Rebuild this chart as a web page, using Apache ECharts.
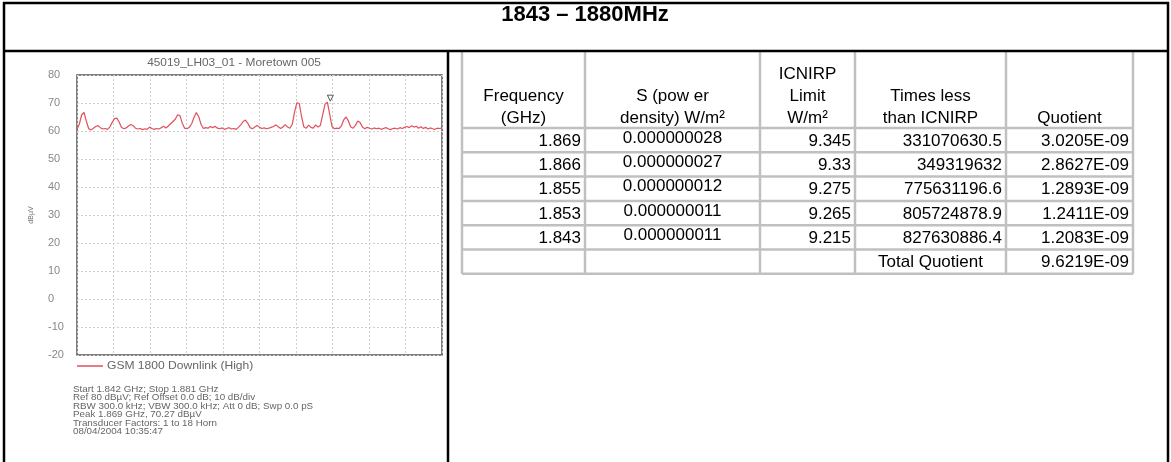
<!DOCTYPE html>
<html><head><meta charset="utf-8">
<script src="https://cdn.jsdelivr.net/npm/echarts@6/dist/echarts.min.js"></script>
<style>html,body{margin:0;padding:0;background:#fff}#c{width:1171px;height:462px}</style>
</head><body><div id="c"></div>
<script>
// ---------- data ----------
const pageTitle = '1843 – 1880MHz';
const chartTitle = '45019_LH03_01 - Moretown 005';
const seriesName = 'GSM 1800 Downlink (High)';
const yAxisName = 'dBµV';
const startGHz = 1.842, stopGHz = 1.881, stepMHz = 0.25; // sweep
const yMin = -20, yMax = 80, yStep = 10;
// measured level (dBµV) every 0.25 MHz from 1.842 GHz
const levels = [
  60.6, 62.5, 65.8, 66.6, 63.5, 60.8, 60.4, 61.0,
  61.6, 61.9, 61.2, 60.7, 60.9, 60.6, 61.4, 63.0,
  64.4, 64.6, 63.2, 61.3, 60.8, 61.1, 61.8, 62.3,
  61.9, 61.0, 60.7, 60.9, 60.5, 60.8, 60.6, 61.4,
  60.9, 60.6, 60.9, 60.7, 61.2, 61.7, 61.1, 61.8,
  62.6, 63.4, 64.2, 65.8, 65.5, 62.8, 61.0, 60.8,
  61.3, 62.6, 64.8, 66.6, 65.2, 62.4, 60.9, 61.2,
  61.0, 61.6, 61.2, 61.7, 61.0, 60.8, 61.1, 60.6,
  60.9, 61.2, 60.7, 60.9, 60.6, 61.3, 62.2, 63.4,
  63.9, 62.8, 61.2, 60.8, 61.4, 62.0, 61.3, 60.9,
  61.1, 60.8, 61.0, 61.3, 61.6, 62.2, 61.5, 60.9,
  61.4, 62.3, 61.4, 61.0, 62.4, 66.8, 70.1, 69.8,
  65.0, 61.4, 61.0, 62.1, 61.3, 61.0, 62.2, 61.4,
  62.0, 65.8, 69.6, 70.3, 66.0, 61.6, 60.8, 61.0,
  60.9, 61.8, 64.0, 65.0, 63.6, 61.4, 61.0, 62.0,
  63.6, 63.0, 61.4, 60.8, 61.3, 61.0, 60.7, 61.1,
  60.8, 61.0, 60.6, 60.9, 61.2, 60.8, 60.5, 60.9,
  61.0, 60.7, 61.2, 60.9, 61.3, 61.6, 61.2, 61.9,
  61.4, 61.7, 61.0, 61.5, 60.9, 61.3, 60.7, 61.1,
  60.8, 60.6, 61.0, 60.9, 61.1
];
const infoLines = [
  'Start 1.842 GHz; Stop 1.881 GHz',
  'Ref 80 dBµV; Ref Offset 0.0 dB; 10 dB/div',
  'RBW 300.0 kHz; VBW 300.0 kHz; Att 0 dB; Swp 0.0 pS',
  'Peak 1.869 GHz, 70.27 dBµV',
  'Transducer Factors: 1 to 18 Horn',
  '08/04/2004 10:35:47'
];
const tableHeaders = ['Frequency\n(GHz)', 'S (pow er\ndensity) W/m²', 'ICNIRP\nLimit\nW/m²', 'Times less\nthan ICNIRP', 'Quotient'];
const frequencies = ['1.869', '1.866', '1.855', '1.853', '1.843'];
const powerDensity = ['0.000000028', '0.000000027', '0.000000012', '0.000000011', '0.000000011'];
const icnirpLimit = ['9.345', '9.33', '9.275', '9.265', '9.215'];
const timesLess = ['331070630.5', '349319632', '775631196.6', '805724878.9', '827630886.4'];
const quotients = ['3.0205E-09', '2.8627E-09', '1.2893E-09', '1.2411E-09', '1.2083E-09'];
const totalLabel = 'Total Quotient';
const totalQuotient = '9.6219E-09';

// ---------- layout ----------
const FONT = '"Liberation Sans", Arial, Helvetica, sans-serif';
const spanMHz = (stopGHz - startGHz) * 1000;
const points = levels.map((v, i) => [i * stepMHz, v]);
let peakIdx = 0; levels.forEach((v, i) => { if (v > levels[peakIdx]) peakIdx = i; });
const traceColor = '#e0505c';

const colX = [462, 585, 760, 855, 1006, 1133];
const headTop = 52, headBottom = 128, rowH = 24.3;
const nRows = frequencies.length + 1;
const tableBottom = headBottom + nRows * rowH;
const G = [];
const gray = '#c0c0c0';
function line(x1, y1, x2, y2, color, w) {
  G.push({ type: 'line', shape: { x1, y1, x2, y2 }, style: { stroke: color, lineWidth: w }, silent: true, z: 10 });
}
function text(t, x, y, align, valign, size, color, extra, sx) {
  G.push({ type: 'text', x, y, scaleX: sx || 1, style: Object.assign({ text: t, fontSize: size, fontFamily: FONT, fill: color, align: align, verticalAlign: valign }, extra || {}), silent: true, z: 11 });
}
// table grid
for (let r = 0; r <= nRows; r++) {
  const y = headBottom + r * rowH;
  line(colX[0], y, colX[5], y, gray, 2.5);
}
colX.forEach(x => line(x, headTop, x, tableBottom, gray, 2.5));
// headers
tableHeaders.forEach((h, c) => {
  text(h, (colX[c] + colX[c + 1]) / 2, headBottom + 1, 'center', 'bottom', 17, '#000', { lineHeight: 22 });
});
// body
const cols = [frequencies, powerDensity, icnirpLimit, timesLess, quotients];
for (let r = 0; r < frequencies.length; r++) {
  const yc = headBottom + r * rowH + rowH / 2 + 1;
  cols.forEach((arr, c) => {
    if (c === 1) text(arr[r], (colX[1] + colX[2]) / 2, yc - 3, 'center', 'middle', 17, '#000');
    else text(arr[r], colX[c + 1] - 4, yc, 'right', 'middle', 17, '#000');
  });
}
const yTot = headBottom + frequencies.length * rowH + rowH / 2 + 1;
text(totalLabel, (colX[3] + colX[4]) / 2, yTot, 'center', 'middle', 17, '#000');
text(totalQuotient, colX[5] - 4, yTot, 'right', 'middle', 17, '#000');
// page frame
line(3, 3, 1169, 3, '#000', 2.5);
line(4, 2, 4, 462, '#000', 2.5);
line(1168, 2, 1168, 462, '#000', 2.5);
line(3, 51, 1169, 51, '#000', 2.5);
line(448, 51, 448, 462, '#000', 2.5);
text(pageTitle, 585, 15, 'center', 'middle', 22, '#000', { fontWeight: 'bold' });
// chart title, legend & info
text(chartTitle, 234, 63, 'center', 'middle', 11, '#666', null, 1.08);
line(77, 366, 103, 366, traceColor, 1.5);
text(seriesName, 107, 366, 'left', 'middle', 10.5, '#666', null, 1.15);
text(infoLines.join('\n'), 73, 385, 'left', 'top', 9.8, '#666', { lineHeight: 8.4 });

const chart = echarts.init(document.getElementById('c'), null, { renderer: 'canvas' });
chart.setOption({
  backgroundColor: '#fff',
  animation: false,
  grid: { left: 77, top: 75, width: 365, height: 280, show: true, borderColor: '#555', borderWidth: 1.5, backgroundColor: 'transparent' },
  xAxis: {
    type: 'value', min: 0, max: spanMHz, interval: spanMHz / 10,
    axisLabel: { show: false }, axisTick: { show: false }, axisLine: { show: false },
    splitLine: { show: true, lineStyle: { color: '#cfcfcf', type: [2, 2], width: 1 } }
  },
  yAxis: {
    type: 'value', min: yMin, max: yMax, interval: yStep,
    name: yAxisName, nameLocation: 'middle', nameRotate: 90, nameGap: 42,
    nameTextStyle: { color: '#777', fontSize: 7, fontFamily: FONT },
    axisLabel: { color: '#888', fontSize: 11, align: 'left', margin: 29, fontFamily: FONT },
    axisTick: { show: false }, axisLine: { show: false },
    splitLine: { show: true, lineStyle: { color: '#cfcfcf', type: [2, 2], width: 1 } }
  },
  series: [{
    name: seriesName, type: 'line', data: points, showSymbol: false, symbol: 'none',
    lineStyle: { color: traceColor, width: 1.2 }, itemStyle: { color: traceColor },
    markPoint: {
      symbol: 'triangle', symbolRotate: 180, symbolSize: 6, symbolOffset: [3, -4],
      itemStyle: { color: '#fff', borderColor: '#555', borderWidth: 1 },
      label: { show: false },
      data: [{ coord: points[peakIdx] }]
    }
  }],
  graphic: G
});
</script></body></html>
